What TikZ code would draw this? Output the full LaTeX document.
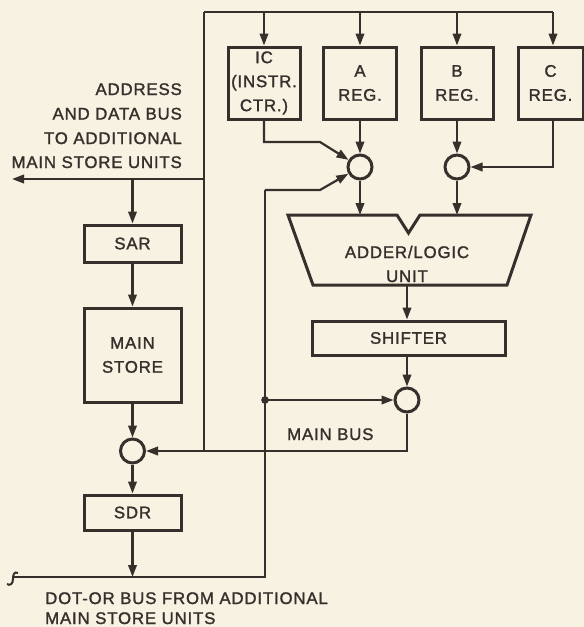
\documentclass[tikz,border=0pt]{standalone}
\usepackage{fontspec}
\setmainfont{Liberation Sans}[FakeBold=1.5, LetterSpace=5]
\usetikzlibrary{arrows.meta}
\definecolor{ink}{HTML}{35302C}
\definecolor{paper}{HTML}{F7F2E2}
\begin{document}
\begin{tikzpicture}[x=1pt,y=-1pt,
  txt/.style={text=ink, font=\fontsize{16.8}{24}\selectfont, inner sep=0pt},
  box/.style={draw=ink, line width=3pt, rectangle, align=center, text=ink,
              font=\fontsize{16.8}{24}\selectfont, inner sep=0pt},
  conn/.style={draw=ink, line width=2.2pt},
  arr/.style={conn, -{Triangle[length=12pt,width=8.5pt]}},
  junc/.style={circle, draw=ink, line width=3pt, minimum size=24pt, inner sep=0pt}]
\fill[paper] (0,0) rectangle (584,627);
\useasboundingbox (0,0) rectangle (584,627);

% registers
\node[box, minimum width=72pt, minimum height=72pt] (ic) at (264,83) {IC\\(INSTR.\\CTR.)};
\node[box, minimum width=73pt, minimum height=72pt] (a) at (360,83) {A\\REG.};
\node[box, minimum width=72pt, minimum height=72pt] (b) at (457,83) {B\\REG.};
\node[box, minimum width=65pt, minimum height=72pt] (c) at (550.5,83) {C\\REG.};

% top bus
\coordinate (tl) at (204,12);
\coordinate (tc) at (553,12);
\coordinate (mbl) at (204,451);
\draw[conn] (tl) -- (tc);
\draw[conn] (tl) -- (mbl);
\draw[arr] (ic.north |- tl) -- (ic.north);
\draw[arr] (a.north |- tl) -- (a.north);
\draw[arr] (b.north |- tl) -- (b.north);
\draw[arr] (tc) -- (tc |- c.north);

% junctions
\node[junc] (ja) at (360,167) {};
\node[junc] (jb) at (457,167) {};
\node[junc] (js) at (407,400) {};
\node[junc] (jm) at (132.5,451) {};

\draw[arr] (a.south) -- (ja);
\draw[arr] (b.south) -- (jb);
\draw[arr] (tc |- c.south) -- (tc |- jb) -- (jb);

\coordinate (k1) at (320,142);
\coordinate (vb) at (265,190);
\coordinate (k2) at (320,190);
\draw[arr] (ic.south) -- (ic.south |- k1) -- (k1) -- (ja);
\draw[arr] (vb) -- (k2) -- (ja);

% adder
\draw[ink, line width=3pt, line join=miter]
  (288,215) -- (397,215) -- (408.5,233) -- (420,215) -- (531,215) -- (507,285) -- (313,285) -- cycle;
\node[txt, align=center] (alu) at (407,264) {ADDER/LOGIC\\UNIT};
\coordinate (alt) at (0,215);
\coordinate (alub) at (407,285);
\draw[arr] (ja.south) -- (ja |- alt);
\draw[arr] (jb.south) -- (jb |- alt);

% shifter
\node[box, minimum width=193pt, minimum height=34pt] (sh) at (408.5,338) {SHIFTER};
\draw[arr] (alub) -- (alub |- sh.north);
\draw[arr] (js |- sh.south) -- (js);

\coordinate (dot) at (265,400);
\fill[ink] (dot) circle (3.8pt);
\draw[arr] (dot) -- (js);
\draw[arr] (js.south) -- (js |- mbl) -- (jm);
\node[txt, anchor=base west] (mb) at (287,440) {MAIN BUS};

% left column
\coordinate (abr) at (204,179);
\coordinate (abl) at (12,179);
\draw[arr] (abr) -- (abl);
\node[box, minimum width=97pt, minimum height=37pt] (sar) at (132.5,243.5) {SAR};
\node[box, minimum width=97pt, minimum height=94pt] (ms) at (132.5,355) {MAIN\\STORE};
\node[box, minimum width=97pt, minimum height=35pt] (sdr) at (132.5,512.5) {SDR};
\draw[arr] (sar.north |- abr) -- (sar.north);
\draw[arr] (sar) -- (ms);
\draw[arr] (ms) -- (jm);
\draw[arr] (jm) -- (sdr);

% bottom dot-or bus
\coordinate (bb) at (265,577);
\coordinate (bl) at (14,577);
\draw[conn] (bl) -- (bb) -- (vb);
\draw[arr] (sdr) -- (sdr |- bb);
\draw[ink, line width=2pt] (18,573) .. controls (14,571) and (13,575) .. (13,579)
  .. controls (13,584) and (10,586) .. (7,584);

% labels
\node[txt, anchor=base east] (l1) at (182,95) {ADDRESS};
\node[txt, anchor=base east] (l2) at (182,119.5) {AND DATA BUS};
\node[txt, anchor=base east] (l3) at (182,144) {TO ADDITIONAL};
\node[txt, anchor=base east] (l4) at (182,168) {MAIN STORE UNITS};
\node[txt, anchor=base west] (d1) at (45,604) {DOT-OR BUS FROM ADDITIONAL};
\node[txt, anchor=base west] (d2) at (45,624) {MAIN STORE UNITS};
\end{tikzpicture}
\end{document}
